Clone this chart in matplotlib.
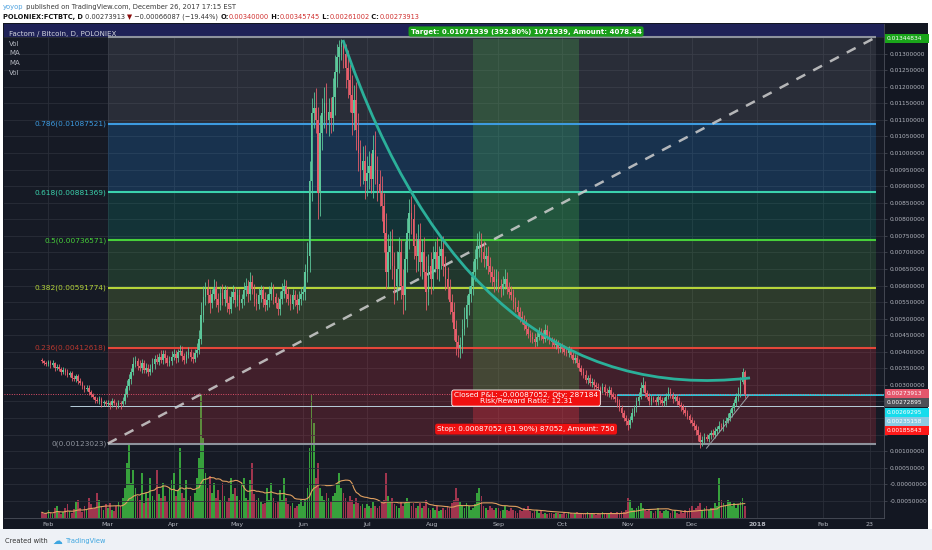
import numpy as np
import pandas as pd
import matplotlib
matplotlib.use("Agg")
import matplotlib.pyplot as plt
import matplotlib.dates as mdates
from matplotlib.patches import Rectangle, PathPatch
from matplotlib.path import Path
from matplotlib.ticker import FuncFormatter

W, H = 932, 550

# FCT/BTC daily candles, Jan 29 - Dec 26 2017, prices in units of 1e-5 BTC
START, END = "2017-01-29", "2017-12-26"
FIRST_OPEN = 375

CLOSE = (
    [372, 366, 362]
    + [368, 360, 365, 352, 355, 348, 340, 346, 338, 330, 335, 322, 318, 326, 312, 305, 296, 288, 292, 278,
       270, 262, 255, 250, 258, 245, 248, 242]
    + [246, 240, 250, 244, 238, 245, 242, 250, 272, 298, 318, 340, 362, 372, 358, 350, 365, 345, 352, 340,
       348, 362, 378, 370, 385, 375, 392, 380, 366, 372, 385]
    + [392, 380, 398, 402, 388, 375, 390, 398, 385, 378, 395, 405, 440, 510, 565, 590, 570, 548, 575, 595,
       560, 540, 578, 560, 585, 548, 530, 565, 580, 555]
    + [570, 548, 560, 585, 600, 575, 612, 590, 560, 545, 570, 585, 560, 540, 555, 575, 590, 565, 548, 530,
       560, 582, 600, 575, 560, 545, 570, 555, 540, 560, 575]
    + [580, 640, 690, 915, 1120, 1135, 1100, 880, 1060, 1120, 1150, 1100, 1125, 1105, 1170, 1245, 1290, 1320,
       1335, 1300, 1255, 1220, 1175, 1120, 1160, 1070, 1000, 950, 975, 915]
    + [940, 960, 920, 1010, 950, 905, 880, 840, 760, 640, 700, 720, 660, 600, 650, 700, 600, 570, 680, 760,
       820, 800, 720, 690, 740, 670, 700, 640, 580, 660, 620]
    + [680, 700, 650, 690, 710, 660, 620, 590, 550, 520, 470, 430, 410, 420, 470, 500, 540, 575, 600, 640,
       680, 720, 730, 700, 680, 690, 660, 640, 625, 610, 620]
    + [600, 590, 605, 620, 595, 580, 570, 550, 535, 520, 505, 495, 480, 470, 455, 445, 440, 430, 445, 460,
       450, 440, 465, 450, 435, 430, 420, 425, 410, 415]
    + [408, 400, 395, 405, 390, 375, 380, 365, 350, 340, 330, 315, 320, 305, 310, 300, 295, 290, 285, 295,
       280, 275, 285, 270, 265, 258, 245, 230, 215, 200, 190]
    + [180, 195, 215, 230, 250, 265, 290, 300, 275, 265, 250, 260, 255, 248, 262, 255, 245, 250, 265, 280,
       270, 258, 262, 250, 240, 232, 225, 215, 205, 195]
    + [185, 175, 165, 150, 128, 135, 142, 138, 148, 155, 150, 162, 168, 175, 172, 185, 192, 200, 215, 230,
       245, 262, 275, 310, 340, 273.913]
)

WICK_UP = (
    [6, 4, 5]
    + [8, 6, 10, 5, 7, 9, 6, 8, 5, 10, 7, 6, 9, 8, 6, 10, 7, 5, 8, 9, 6, 7, 5, 8, 10, 6, 7, 5]
    + [8, 6, 10, 7, 5, 9, 6, 12, 20, 18, 15, 12, 22, 14, 10, 16, 12, 9, 14, 11, 15, 18, 12, 16, 10, 20,
       14, 12, 9, 15, 18]
    + [15, 12, 10, 18, 14, 9, 12, 16, 10, 14, 12, 20, 25, 40, 35, 22, 30, 18, 15, 25, 20, 18, 22, 28, 16,
       14, 20, 18, 22, 15]
    + [20, 18, 15, 25, 22, 18, 30, 20, 15, 18, 22, 16, 14, 20, 18, 24, 20, 15, 12, 18, 22, 25, 20, 16, 18,
       14, 20, 16, 18, 22, 20]
    + [20, 25, 40, 60, 45, 50, 60, 40, 55, 45, 50, 60, 40, 45, 55, 50, 40, 20, 9.834, 5, 30, 55, 50, 60,
       45, 55, 50, 40, 45, 50]
    + [50, 45, 40, 45, 55, 40, 45, 50, 40, 60, 55, 45, 50, 40, 55, 45, 40, 50, 55, 45, 40, 50, 45, 40, 45,
       50, 40, 45, 50, 35, 40]
    + [40, 35, 45, 30, 35, 40, 30, 35, 30, 25, 30, 25, 20, 25, 30, 35, 30, 25, 30, 35, 30, 40, 35, 30, 35,
       25, 30, 25, 20, 25, 30]
    + [25, 20, 25, 30, 20, 15, 20, 18, 15, 20, 15, 18, 15, 20, 15, 12, 15, 18, 20, 15, 12, 15, 20, 15, 12,
       10, 12, 15, 12, 10]
    + [10, 12, 15, 12, 10, 15, 12, 10, 12, 10, 12, 15, 10, 12, 10, 8, 10, 12, 8, 10, 8, 10, 12, 8, 10, 8,
       10, 12, 8, 10, 8]
    + [10, 12, 15, 10, 12, 15, 20, 25, 12, 10, 12, 10, 8, 10, 12, 8, 10, 12, 10, 15, 12, 10, 8, 10, 12, 8,
       10, 8, 10, 8]
    + [8, 10, 8, 10, 8, 10, 12, 10, 8, 10, 12, 10, 8, 15, 10, 12, 10, 15, 12, 10, 12, 15, 20, 15, 10, 5.745]
)

WICK_DN = (
    [5, 6, 4]
    + [6, 8, 5, 9, 6, 7, 10, 6, 8, 5, 7, 9, 6, 8, 10, 6, 7, 9, 5, 8, 7, 6, 9, 5, 7, 12, 8, 6]
    + [7, 12, 8, 6, 10, 7, 14, 6, 8, 10, 12, 15, 10, 8, 12, 9, 14, 10, 8, 12, 9, 10, 14, 8, 11, 9, 12, 15,
       10, 8, 12]
    + [10, 14, 12, 8, 15, 12, 10, 9, 14, 11, 8, 10, 12, 18, 20, 25, 22, 30, 15, 18, 25, 20, 15, 18, 22, 28,
       15, 12, 18, 20]
    + [18, 22, 15, 20, 18, 25, 20, 15, 22, 18, 15, 20, 25, 18, 15, 20, 18, 22, 15, 20, 18, 15, 20, 25, 18,
       20, 15, 18, 22, 15, 18]
    + [20, 25, 30, 50, 60, 45, 40, 80, 70, 50, 45, 40, 50, 45, 40, 55, 45, 50, 40, 45, 60, 55, 50, 65, 50,
       60, 55, 50, 45, 55]
    + [45, 50, 40, 55, 45, 50, 40, 45, 60, 50, 45, 50, 40, 55, 45, 50, 40, 55, 45, 40, 50, 45, 40, 50, 45,
       40, 50, 45, 55, 40, 45]
    + [35, 40, 30, 35, 40, 30, 35, 30, 35, 30, 35, 40, 25, 30, 25, 20, 25, 30, 25, 30, 25, 30, 35, 30, 25,
       30, 25, 30, 25, 30, 25]
    + [20, 25, 20, 15, 20, 18, 15, 20, 15, 18, 15, 12, 15, 18, 12, 15, 12, 15, 12, 10, 15, 12, 10, 15, 12,
       15, 10, 12, 15, 10]
    + [12, 10, 8, 12, 10, 8, 10, 12, 8, 10, 8, 10, 12, 8, 10, 12, 8, 10, 12, 8, 10, 8, 10, 12, 8, 10, 12,
       10, 12, 8, 10]
    + [15, 10, 8, 10, 12, 10, 8, 12, 10, 8, 10, 12, 8, 10, 8, 12, 10, 8, 10, 8, 10, 12, 8, 10, 8, 10, 12,
       10, 8, 10]
    + [10, 12, 15, 20, 18, 12, 10, 8, 10, 12, 8, 10, 12, 10, 8, 10, 12, 8, 10, 12, 8, 10, 12, 10, 8, 12.911]
)

VOLUME = (
    [6, 4, 5]
    + [8, 5, 4, 10, 12, 6, 4, 6, 10, 14, 7, 5, 9, 16, 18, 10, 6, 12, 8, 20, 14, 9, 10, 25, 18, 12, 8, 14]
    + [10, 15, 8, 7, 12, 16, 12, 20, 30, 55, 75, 35, 48, 30, 22, 18, 45, 15, 25, 20, 40, 22, 18, 48, 24,
       20, 35, 22, 16, 30, 38]
    + [45, 22, 28, 70, 25, 20, 38, 18, 22, 16, 25, 40, 60, 123, 80, 45, 30, 42, 25, 35, 20, 28, 18, 35, 22,
       16, 20, 40, 24, 30]
    + [22, 18, 35, 40, 20, 18, 38, 55, 24, 18, 20, 16, 14, 15, 30, 18, 35, 20, 15, 16, 28, 18, 40, 20, 14,
       12, 15, 10, 12, 14, 18]
    + [12, 18, 30, 70, 123, 95, 40, 55, 30, 22, 18, 25, 20, 16, 22, 25, 35, 45, 30, 25, 20, 16, 22, 18, 14,
       20, 15, 12, 14, 10]
    + [14, 12, 10, 16, 12, 10, 12, 15, 18, 45, 22, 16, 20, 14, 12, 10, 16, 12, 15, 20, 16, 12, 15, 10, 12,
       15, 10, 12, 18, 10, 8]
    + [10, 8, 12, 7, 8, 10, 8, 12, 10, 15, 18, 30, 20, 16, 12, 10, 15, 12, 8, 10, 14, 25, 30, 22, 12, 10,
       8, 12, 10, 8, 10]
    + [10, 7, 8, 12, 8, 7, 10, 8, 7, 5, 8, 7, 10, 8, 12, 7, 5, 7, 8, 5, 7, 4, 5, 4, 5, 5, 4, 5, 5, 4]
    + [4, 5, 4, 6, 5, 4, 5, 6, 4, 5, 4, 5, 6, 4, 5, 4, 3, 5, 4, 6, 5, 4, 5, 6, 4, 5, 6, 5, 7, 6, 8]
    + [20, 18, 10, 8, 10, 12, 15, 10, 8, 7, 8, 7, 5, 7, 10, 7, 5, 7, 8, 7, 5, 7, 8, 5, 4, 7, 5, 8, 7, 10]
    + [12, 8, 10, 12, 15, 8, 10, 12, 8, 10, 10, 15, 12, 40, 18, 15, 12, 18, 16, 12, 15, 10, 14, 16, 20, 12]
)

# fibonacci retracement drawing
FIB_LEVELS = [0, 0.236, 0.382, 0.5, 0.618, 0.786, 1]
FIB_PRICES = [0.00123023, 0.00412618, 0.00591774, 0.00736571, 0.00881369, 0.01087521, 0.01350120]
FIB_LINE = ["#8e939d", "#e4473a", "#b5d43a", "#47cf3a", "#3bd2ad", "#3d9be0", "#8e939d"]
FIB_TEXT = ["#8e939d", "#b8382f", "#b5d43a", "#47cf3a", "#3bd2ad", "#3d9be0", "#555a66"]
FIB_FILL = [None, "#f23645", "#8bc34a", "#4caf50", "#089981", "#2196f3", "#787b86"]
FIB_SPAN = ["2017-03-01", "2018-02-26"]

# long position tool
ENTRY, TARGET, STOP = 0.00272895, 0.01344834, 0.00185843
POS_SPAN = ["2017-08-20", "2017-10-09"]
LAST = 0.00273913

# other drawings
CURVE_DATES = ["2017-06-19 18:00", "2017-08-18 14:00", "2017-12-28 12:00"]
CURVE_PRICES = [0.01341, 0.00224, 0.00321]
TREND_DATES = ["2017-12-08", "2017-12-28"]
TREND_PRICES = [0.00109, 0.00269]
CYAN_LEVEL, CYAN_FROM = 0.00269295, "2017-10-27"
GREY_LEVEL, GREY_FROM = 0.00235158, "2017-02-11"

TICK_DATES = ["2017-02-01", "2017-03-01", "2017-04-01", "2017-05-01", "2017-06-01", "2017-07-01",
              "2017-08-01", "2017-09-01", "2017-10-01", "2017-11-01", "2017-12-01", "2018-01-01",
              "2018-02-01", "2018-02-23"]
TICK_LABELS = ["Feb", "Mar", "Apr", "May", "Jun", "Jul", "Aug", "Sep", "Oct", "Nov", "Dec", "2018",
               "Feb", "23"]
# price grid every 0.0005; labels under the stacked price tags are left out
PRICE_TICKS = np.arange(-1, 28) * 0.0005
HIDDEN_TICKS = [0.0015, 0.002, 0.0025, 0.0135]


def num(d):
    return mdates.date2num(pd.Timestamp(d))


def fpx(x, y):
    return x / W, 1 - y / H


def fmt_price(v, _):
    if any(abs(v - h) < 1e-9 for h in HIDDEN_TICKS):
        return ""
    return "-0.00000000" if abs(v) < 1e-12 else f"{v:.8f}"


dates = pd.date_range(START, END, freq="D")
x = mdates.date2num(dates)
close = np.array(CLOSE) * 1e-5
opn = np.concatenate([[FIRST_OPEN * 1e-5], close[:-1]])
high = np.maximum(opn, close) + np.array(WICK_UP) * 1e-5
low = np.minimum(opn, close) - np.array(WICK_DN) * 1e-5
up = close >= opn

fig = plt.figure(figsize=(W / 100, H / 100), dpi=100, facecolor="white")
fig.patches.append(Rectangle(fpx(3, 529), 925 / W, 506 / H, transform=fig.transFigure,
                             facecolor="#131722", edgecolor="none", zorder=-10))
fig.patches.append(Rectangle(fpx(0, 550), 1, 21 / H, transform=fig.transFigure,
                             facecolor="#eef1f6", edgecolor="none", zorder=-10))

rect = [4 / W, 1 - 518.3 / H, 880 / W, 494.3 / H]
axv = fig.add_axes(rect, facecolor="#161a25")
ax = fig.add_axes(rect, sharex=axv, facecolor="none")

x0 = num("2017-02-01")
ax.set_xlim(x0 - 20.9, x0 + 393.6)
ax.set_ylim(-0.001026, 0.013893)
axv.set_ylim(0, 494.3)

# volume pane
vcol = np.where(up, "#3aae3f", "#ad3852")
axv.bar(x, VOLUME, width=0.82, color=vcol, linewidth=0, alpha=0.92, zorder=2)
vma = pd.Series(VOLUME).rolling(20, min_periods=1).mean()
axv.plot(x, vma, color="#e0a060", lw=0.8, zorder=3)
axv.tick_params(left=False, labelleft=False, bottom=False, labelbottom=False)
for s in axv.spines.values():
    s.set_visible(False)
axv.grid(True, axis="x", color="#2a2e39", lw=0.6)

# grid and axes styling
ax.set_axisbelow(True)
ax.grid(True, axis="y", color="#2a2e39", lw=0.6)
ax.set_xticks([num(d) for d in TICK_DATES])
ax.set_xticklabels(TICK_LABELS)
for lab in ax.get_xticklabels():
    if lab.get_text() == "2018":
        lab.set_fontweight("bold")
ax.set_yticks(PRICE_TICKS)
ax.yaxis.set_major_formatter(FuncFormatter(fmt_price))
ax.yaxis.tick_right()
ax.tick_params(axis="x", length=0, labelsize=4.6, labelcolor="#b2b5be", pad=3)
ax.tick_params(axis="y", length=2, width=0.5, color="#4a4e59", labelsize=4.2,
               labelcolor="#b2b5be", pad=2)
for side in ["top", "left"]:
    ax.spines[side].set_visible(False)
for side in ["right", "bottom"]:
    ax.spines[side].set_color("#4a4e59")
    ax.spines[side].set_linewidth(0.6)

# band above the fib top level
ax.axhspan(FIB_PRICES[-1], 0.0145, color="#1f2257", lw=0, zorder=0.8)

# fib retracement (the top level label sits under the chart title and is left out)
fx0, fx1 = num(FIB_SPAN[0]), num(FIB_SPAN[1])
for i, (lvl, p) in enumerate(zip(FIB_LEVELS, FIB_PRICES)):
    if FIB_FILL[i]:
        ax.fill_between([fx0, fx1], FIB_PRICES[i - 1], p, color=FIB_FILL[i], alpha=0.2, lw=0, zorder=1)
    ax.hlines(p, fx0, fx1, color=FIB_LINE[i], lw=1.5, zorder=2)
    if lvl < 1:
        ax.text(fx0 - 0.6, p, f"{lvl:g}({p:.8f})", ha="right", va="center", color=FIB_TEXT[i],
                fontsize=5.3, zorder=2)
ax.plot([fx0, fx1], [FIB_PRICES[0], FIB_PRICES[-1]], color="#cfcfcf", lw=1.8, alpha=0.85,
        dashes=(4, 3.6), zorder=2)

# position tool
px0, px1 = num(POS_SPAN[0]), num(POS_SPAN[1])
ax.fill_between([px0, px1], ENTRY, TARGET, color="#4caf50", alpha=0.28, lw=0, zorder=1.5)
ax.fill_between([px0, px1], STOP, ENTRY, color="#f23645", alpha=0.3, lw=0, zorder=1.5)

# horizontal lines
ax.hlines(GREY_LEVEL, num(GREY_FROM), ax.get_xlim()[1], color="#b8cfdc", lw=0.7, zorder=2.5)
ax.hlines(CYAN_LEVEL, num(CYAN_FROM), ax.get_xlim()[1], color="#22d3e6", lw=1.3, zorder=2.5)
ax.axhline(LAST, color="#e0506a", lw=0.7, ls=(0, (1, 1.5)), zorder=2.5)

# candles
ccol = np.where(up, "#5cc79a", "#e35d6a")
ax.vlines(x, low, high, colors=ccol, lw=0.6, zorder=3)
ax.bar(x, np.maximum(np.abs(close - opn), 0.000004), bottom=np.minimum(opn, close), width=0.75,
       color=ccol, linewidth=0, zorder=3.1)

# curve and small trend line
verts = list(zip([num(d) for d in CURVE_DATES], CURVE_PRICES))
ax.add_patch(PathPatch(Path(verts, [Path.MOVETO, Path.CURVE3, Path.CURVE3]), fc="none",
                       ec="#2bb09a", lw=2.0, zorder=4))
ax.plot([num(d) for d in TREND_DATES], TREND_PRICES, color="#9aa0a6", lw=0.7, zorder=4)

# position labels
pmid = (px0 + px1) / 2
ax.annotate("Target: 0.01071939 (392.80%) 1071939, Amount: 4078.44", (pmid, TARGET),
            xytext=(0, 5.2), textcoords="offset points", ha="center", va="center",
            fontsize=5.0, color="white", fontweight="bold", zorder=6,
            bbox=dict(boxstyle="round,pad=0.3", fc="#1a9e1a", ec="none"))
ax.annotate("Closed P&L: -0.00087052, Qty: 287184\nRisk/Reward Ratio: 12.31", (pmid, ENTRY),
            xytext=(0, -3), textcoords="offset points", ha="center", va="center",
            fontsize=5.3, color="white", linespacing=0.95, zorder=6,
            bbox=dict(boxstyle="round,pad=0.3", fc="#f01010", ec="white", lw=0.6))
ax.annotate("Stop: 0.00087052 (31.90%) 87052, Amount: 750", (pmid, STOP),
            xytext=(0, -4.6), textcoords="offset points", ha="center", va="center",
            fontsize=5.2, color="white", zorder=6,
            bbox=dict(boxstyle="round,pad=0.3", fc="#f01010", ec="none"))

# chart legend, top left
fig.text(*fpx(9, 34.3), "Factom / Bitcoin, D, POLONIEX", color="#d1d4dc", fontsize=5.1, va="center")
for yy, s in zip([43.7, 53.3, 63, 72.7], ["Vol", "MA", "MA", "Vol"]):
    fig.text(*fpx(9, yy), s, color="#b2b5be", fontsize=5.0, va="center")


def price_label(ypx, s, bg, fg="white"):
    fig.patches.append(Rectangle(fpx(884.5, ypx + 4.6), 44 / W, 9.2 / H, transform=fig.transFigure,
                                 facecolor=bg, edgecolor="none", zorder=5))
    fig.text(*fpx(887, ypx), s, color=fg, fontsize=4.2, va="center", zorder=6)


def price_y(p):
    return H - ax.transData.transform((x0, p))[1]


price_label(price_y(TARGET), f"{TARGET:.8f}", "#1aa51a")
stack = [(LAST, "#e4566c"), (ENTRY, "#4e5057"), (CYAN_LEVEL, "#16dcec"), (GREY_LEVEL, "#8ccbe3"),
         (STOP, "#ff1a1a")]
prev = -100
for p, bg in stack:
    yy = max(price_y(p), prev + 9.3)
    price_label(yy, f"{p:.8f}", bg)
    prev = yy

# header and footer
renderer = fig.canvas.get_renderer()


def text_run(pieces, xpx, ypx, size):
    for s, color, weight in pieces:
        t = fig.text(*fpx(xpx, ypx), s, color=color, fontsize=size, fontweight=weight, va="center")
        xpx += t.get_window_extent(renderer).width


text_run([("yoyop", "#4fa3e0", "normal"),
          (" published on TradingView.com, December 26, 2017 17:15 EST", "#3a3a3a", "normal")],
         3, 6.7, 4.9)
RED = "#d0302f"
text_run([("POLONIEX:FCTBTC, D", "#111111", "bold"), (" 0.00273913 ", "#333333", "normal"),
          ("▼", "#8b0a0a", "normal"), (" −0.00066087 (−19.44%) ", "#333333", "normal"),
          ("O:", "#111111", "bold"), ("0.00340000", RED, "normal"),
          (" H:", "#111111", "bold"), ("0.00345745", RED, "normal"),
          (" L:", "#111111", "bold"), ("0.00261002", RED, "normal"),
          (" C:", "#111111", "bold"), ("0.00273913", RED, "normal")],
         3, 16.7, 4.75)
fig.text(*fpx(5, 541), "Created with", color="#333333", fontsize=4.8, va="center")
fig.text(*fpx(52, 540.5), "☁", color="#3ea6e0", fontsize=7, va="center")
fig.text(*fpx(66, 541), "TradingView", color="#3ea6e0", fontsize=4.8, va="center")

fig.savefig("out.png", dpi=100, facecolor=fig.get_facecolor())
